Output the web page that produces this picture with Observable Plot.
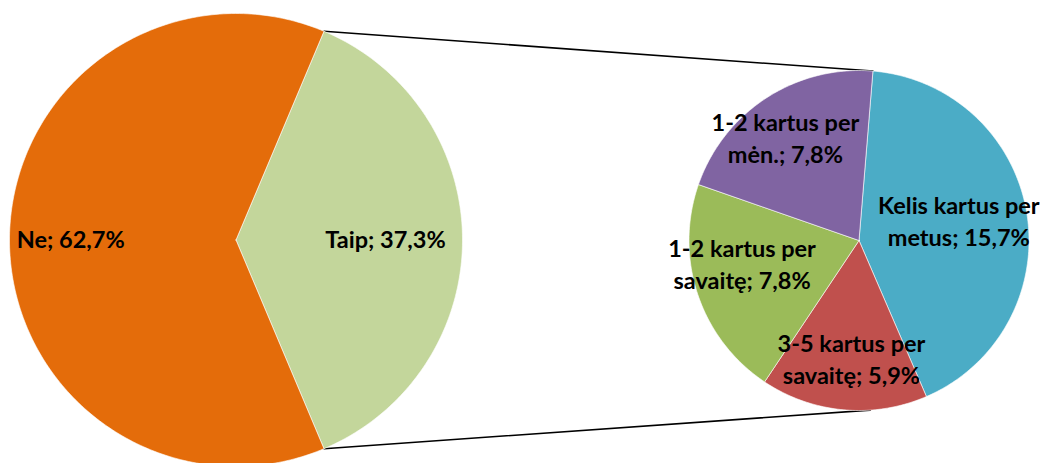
<!DOCTYPE html>
<html><head><meta charset="utf-8">
<script src="https://cdn.jsdelivr.net/npm/d3@7"></script>
<script src="https://cdn.jsdelivr.net/npm/@observablehq/plot@0.6"></script>
<style>body{margin:0;background:#fff}svg{display:block}</style>
</head><body><div id="chart"></div>
<script>
// DATA
const mainCategories = ["Ne", "Taip"];
const mainValues = [62.7, 37.3];
const subCategories = ["Kelis kartus per metus", "3-5 kartus per savaitę", "1-2 kartus per savaitę", "1-2 kartus per mėn."];
const subValues = [15.7, 5.9, 7.8, 7.8];

// LAYOUT / STYLE
const W = 1046, H = 463;
const main = {cx: 235.5, cy: 239.5, r: 226.5};
const sub = {cx: 858.5, cy: 240, r: 170};
const mainColors = {"Ne": "#E46C0A", "Taip": "#C3D69B"};
const subColors = ["#4BACC6", "#C0504D", "#9BBB59", "#8064A2"];
const subStart = 4.7;          // degrees clockwise from north
const bottomLinkAngle = 176.2; // where lower connector meets secondary pie
const mainLabelR = {"Ne": 0.73, "Taip": 0.66};
const subLabelR = [0.60, 0.69, 0.70, 0.75];
const subLabelAngleShift = [-2.6, -1.5, 7.9, -2.2];
const FS = 23.5;

const fmt = v => v.toFixed(1).replace(".", ",") + "%";
const pt = (c, r, deg) => { const a = deg * Math.PI / 180; return [c.cx + r * Math.sin(a), c.cy - r * Math.cos(a)]; };

function slicePoly(c, a0, a1, key) {
  const pts = [{k: key, x: c.cx, y: c.cy}];
  const n = Math.max(4, Math.ceil((a1 - a0) / 1));
  for (let i = 0; i <= n; i++) { const [x, y] = pt(c, c.r, a0 + (a1 - a0) * i / n); pts.push({k: key, x, y}); }
  pts.push({k: key, x: c.cx, y: c.cy});
  return pts;
}

// main pie: "Taip" centred on east
const mainTotal = d3.sum(mainValues);
const taipSpan = mainValues[1] / mainTotal * 360;
const taipStart = 90 - taipSpan / 2, taipEnd = 90 + taipSpan / 2;
const mainSlices = [
  {cat: "Taip", a0: taipStart, a1: taipEnd, v: mainValues[1]},
  {cat: "Ne", a0: taipEnd, a1: taipStart + 360, v: mainValues[0]}
];
const mainPts = mainSlices.flatMap(s => slicePoly(main, s.a0, s.a1, s.cat));
const mainLabels = mainSlices.map(s => {
  const [x, y] = pt(main, main.r * mainLabelR[s.cat], (s.a0 + s.a1) / 2);
  return {x, y, text: `${s.cat}; ${fmt(s.v)}`};
});

// secondary pie
const subTotal = d3.sum(subValues);
let acc = subStart;
const subSlices = subCategories.map((cat, i) => {
  const span = subValues[i] / subTotal * 360;
  const s = {cat, i, a0: acc, a1: acc + span, v: subValues[i]};
  acc += span; return s;
});
const subPts = subSlices.flatMap(s => slicePoly(sub, s.a0, s.a1, s.cat));
const wrap = {
  "Kelis kartus per metus": "Kelis kartus per\nmetus",
  "3-5 kartus per savaitę": "3-5 kartus per\nsavaitę",
  "1-2 kartus per savaitę": "1-2 kartus per\nsavaitę",
  "1-2 kartus per mėn.": "1-2 kartus per\nmėn."
};
const subLabels = subSlices.map(s => {
  const [x, y] = pt(sub, sub.r * subLabelR[s.i], (s.a0 + s.a1) / 2 + subLabelAngleShift[s.i]);
  return {x, y, text: `${wrap[s.cat]}; ${fmt(s.v)}`};
});

// connectors
const [t0x, t0y] = pt(main, main.r, taipStart);
const [b0x, b0y] = pt(main, main.r, taipEnd);
const [t1x, t1y] = pt(sub, sub.r, subStart);
const [b1x, b1y] = pt(sub, sub.r, bottomLinkAngle);
const links = [
  {k: "top", x: t0x, y: t0y}, {k: "top", x: t1x, y: t1y},
  {k: "bot", x: b0x, y: b0y}, {k: "bot", x: b1x, y: b1y}
];

const chart = Plot.plot({
  width: W, height: H,
  marginTop: 0, marginRight: 0, marginBottom: 0, marginLeft: 0,
  x: {domain: [0, W], range: [0, W], axis: null},
  y: {domain: [0, H], range: [0, H], axis: null},
  color: {domain: [...mainCategories, ...subCategories], range: [mainColors["Ne"], mainColors["Taip"], ...subColors]},
  style: {fontFamily: "Lato, 'Open Sans', sans-serif", background: "#fff"},
  marks: [
    Plot.line(links, {x: "x", y: "y", z: "k", stroke: "#000", strokeWidth: 1.6}),
    Plot.line(mainPts, {x: "x", y: "y", z: "k", fill: "k", stroke: "#fff", strokeWidth: 0.6, curve: "linear-closed"}),
    Plot.line(subPts, {x: "x", y: "y", z: "k", fill: "k", stroke: "#fff", strokeWidth: 0.6, curve: "linear-closed"}),
    Plot.text(mainLabels, {x: "x", y: "y", text: "text", fontSize: FS, fontWeight: "bold", fill: "#000"}),
    Plot.text(subLabels, {x: "x", y: "y", text: "text", fontSize: FS, fontWeight: "bold", fill: "#000", lineHeight: 1.38})
  ]
});
document.getElementById("chart").appendChild(chart);
</script>
</body></html>
